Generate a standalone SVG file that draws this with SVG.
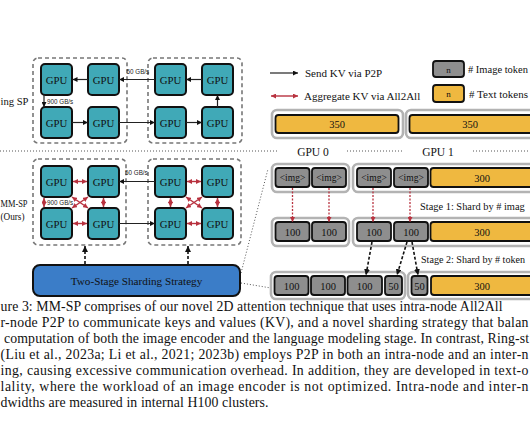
<svg xmlns="http://www.w3.org/2000/svg" width="530" height="442" viewBox="0 0 530 442">
<style>
.gpu rect{fill:#40a9b7;stroke:#111;stroke-width:2}
.gpu text{font-family:"Liberation Serif",serif;font-size:10.8px;fill:#111;text-anchor:middle}
.node{fill:none;stroke:#777;stroke-width:1.6;stroke-dasharray:4 3}
.blk{stroke:#222;stroke-width:1.2;fill:none;marker-end:url(#ab)}
.red{stroke:#b8323f;stroke-width:1.4;fill:none;marker-start:url(#ar);marker-end:url(#ar)}
.rdash{stroke:#b8323f;stroke-width:1.3;fill:none;stroke-dasharray:2 1.5;marker-end:url(#ard)}
.kdash{stroke:#111;stroke-width:1.6;fill:none;stroke-dasharray:3 2;marker-end:url(#akd)}
.dot{stroke:#555;stroke-width:1;fill:none;stroke-dasharray:1 2}
.bw{font-family:"Liberation Sans",Arial,sans-serif;font-size:6.3px;fill:#222}
.lbl{font-family:"Liberation Serif",serif;font-size:11px;fill:#111}
.ctn{fill:#fff;stroke:#b3b3b3;stroke-width:2.6}
.g{fill:#8e8e8e;stroke:#111;stroke-width:1.8}
.y{fill:#efb840;stroke:#111;stroke-width:1.8}
.tk{font-family:"Liberation Serif",serif;font-size:10.5px;fill:#111;text-anchor:middle}
.cap{font-family:"Liberation Serif","Times New Roman",serif;font-size:13.8px;fill:#111}
</style>
<defs>
<marker id="ab" viewBox="0 0 10 10" refX="10" refY="5" markerWidth="5" markerHeight="5" markerUnits="userSpaceOnUse" orient="auto"><path d="M0,0L10,5L0,10z" fill="#111"/></marker>
<marker id="ar" viewBox="0 0 10 10" refX="10" refY="5" markerWidth="5" markerHeight="5" markerUnits="userSpaceOnUse" orient="auto-start-reverse"><path d="M0,0L10,5L0,10z" fill="#b8323f"/></marker>
<marker id="ard" viewBox="0 0 10 10" refX="10" refY="5" markerWidth="5" markerHeight="5" markerUnits="userSpaceOnUse" orient="auto"><path d="M0,0L10,5L0,10z" fill="#b8323f"/></marker>
<marker id="akd" viewBox="0 0 10 10" refX="10" refY="5" markerWidth="6" markerHeight="6" markerUnits="userSpaceOnUse" orient="auto"><path d="M0,0L10,5L0,10z" fill="#111"/></marker>
</defs>

<!-- Ring SP -->
<text class="lbl" x="0.5" y="105" textLength="28" lengthAdjust="spacingAndGlyphs">ing SP</text>
<rect class="node" id="ring-node0" x="33" y="58" width="94" height="85" rx="5"/>
<rect class="node" id="ring-node1" x="148" y="58" width="94" height="85" rx="5"/>
<g id="r-gpu-a" class="gpu"><rect x="41" y="64" width="31" height="31" rx="4"/><text x="56.5" y="83.5">GPU</text></g>
<g id="r-gpu-b" class="gpu"><rect x="88" y="64" width="31" height="31" rx="4"/><text x="103.5" y="83.5">GPU</text></g>
<g id="r-gpu-c" class="gpu"><rect x="41" y="107" width="31" height="31" rx="4"/><text x="56.5" y="126.5">GPU</text></g>
<g id="r-gpu-d" class="gpu"><rect x="88" y="107" width="31" height="31" rx="4"/><text x="103.5" y="126.5">GPU</text></g>
<g id="r-gpu-e" class="gpu"><rect x="155" y="64" width="31" height="31" rx="4"/><text x="170.5" y="83.5">GPU</text></g>
<g id="r-gpu-f" class="gpu"><rect x="202" y="64" width="31" height="31" rx="4"/><text x="217.5" y="83.5">GPU</text></g>
<g id="r-gpu-g" class="gpu"><rect x="155" y="107" width="31" height="31" rx="4"/><text x="170.5" y="126.5">GPU</text></g>
<g id="r-gpu-h" class="gpu"><rect x="202" y="107" width="31" height="31" rx="4"/><text x="217.5" y="126.5">GPU</text></g>
<g id="ring-connectors">
<line class="blk" x1="88" y1="79.5" x2="72.5" y2="79.5"/>
<line class="blk" x1="44" y1="95" x2="44" y2="107"/>
<line class="blk" x1="72" y1="122.5" x2="88" y2="122.5"/>
<line class="blk" x1="119" y1="122.5" x2="155" y2="122.5"/>
<line class="blk" x1="186" y1="122.5" x2="202" y2="122.5"/>
<line class="blk" x1="217.5" y1="107" x2="217.5" y2="95"/>
<line class="blk" x1="202" y1="79.5" x2="186" y2="79.5"/>
<line class="blk" x1="155" y1="79.5" x2="119" y2="79.5"/>
<text class="bw" x="126.5" y="74">50 GB/s</text>
<text class="bw" x="47" y="104">900 GB/s</text>
</g>

<!-- separator -->
<path class="dot" d="M0,151H277M347,151H404M473,151H530"/>

<!-- MM-SP -->
<text class="lbl" x="0.5" y="207" textLength="27" lengthAdjust="spacingAndGlyphs">MM-SP</text>
<text class="lbl" x="0.5" y="220" textLength="24" lengthAdjust="spacingAndGlyphs">(Ours)</text>
<rect class="node" id="mm-node0" x="33" y="159" width="93" height="86" rx="5"/>
<rect class="node" id="mm-node1" x="148" y="159" width="93" height="86" rx="5"/>
<g id="m-gpu-a" class="gpu"><rect x="41" y="166" width="31" height="31" rx="4"/><text x="56.5" y="185.5">GPU</text></g>
<g id="m-gpu-b" class="gpu"><rect x="88" y="166" width="31" height="31" rx="4"/><text x="103.5" y="185.5">GPU</text></g>
<g id="m-gpu-c" class="gpu"><rect x="41" y="208" width="31" height="31" rx="4"/><text x="56.5" y="227.5">GPU</text></g>
<g id="m-gpu-d" class="gpu"><rect x="88" y="208" width="31" height="31" rx="4"/><text x="103.5" y="227.5">GPU</text></g>
<g id="m-gpu-e" class="gpu"><rect x="155" y="166" width="31" height="31" rx="4"/><text x="170.5" y="185.5">GPU</text></g>
<g id="m-gpu-f" class="gpu"><rect x="202" y="166" width="31" height="31" rx="4"/><text x="217.5" y="185.5">GPU</text></g>
<g id="m-gpu-g" class="gpu"><rect x="155" y="208" width="31" height="31" rx="4"/><text x="170.5" y="227.5">GPU</text></g>
<g id="m-gpu-h" class="gpu"><rect x="202" y="208" width="31" height="31" rx="4"/><text x="217.5" y="227.5">GPU</text></g>
<g id="mm-connectors">
<line class="red" x1="73" y1="181.5" x2="87" y2="181.5"/>
<line class="red" x1="73" y1="223.5" x2="87" y2="223.5"/>
<line class="red" x1="44" y1="198" x2="44" y2="207"/>
<line class="red" x1="103.5" y1="198" x2="103.5" y2="207"/>
<line class="red" x1="72" y1="197" x2="88" y2="208"/>
<line class="red" x1="88" y1="197" x2="72" y2="208"/>
<line class="red" x1="187" y1="181.5" x2="201" y2="181.5"/>
<line class="red" x1="187" y1="223.5" x2="201" y2="223.5"/>
<line class="red" x1="170.5" y1="198" x2="170.5" y2="207"/>
<line class="red" x1="217.5" y1="198" x2="217.5" y2="207"/>
<line class="red" x1="186" y1="197" x2="202" y2="208"/>
<line class="red" x1="202" y1="197" x2="186" y2="208"/>
<line class="blk" x1="155" y1="181.5" x2="119" y2="181.5"/>
<line class="blk" x1="119" y1="223.5" x2="155" y2="223.5"/>
<text class="bw" x="125" y="175">50 GB/s</text>
<text class="bw" x="47" y="204.5">900 GB/s</text>
<line class="kdash" x1="85" y1="264" x2="85" y2="246"/>
<line class="kdash" x1="188" y1="264" x2="188" y2="246"/>
<path class="dot" d="M241,273L268,169M241,283L271,288"/>
</g>

<g id="two-stage">
<rect x="33" y="265" width="207" height="31" rx="7" fill="#3b7dc8" stroke="#111" stroke-width="2"/>
<text x="136.5" y="284.5" font-family="Liberation Serif,serif" font-size="11.2px" text-anchor="middle" fill="#111">Two-Stage Sharding Strategy</text>
</g>

<!-- Legend -->
<g id="legend">
<line class="blk" x1="270" y1="73" x2="298" y2="73"/>
<text class="lbl" x="305" y="77">Send KV via P2P</text>
<line class="red" x1="271" y1="96" x2="298" y2="96"/>
<text class="lbl" x="304" y="100">Aggregate KV via All2All</text>
<rect class="g" x="433" y="61" width="31" height="16" rx="3"/>
<text class="tk" x="448.5" y="72.5" style="font-size:9px">n</text>
<text class="lbl" x="468" y="73" textLength="60" lengthAdjust="spacingAndGlyphs"># Image token</text>
<rect class="y" x="433" y="85" width="31" height="17" rx="3"/>
<text class="tk" x="448.5" y="97" style="font-size:9px">n</text>
<text class="lbl" x="469" y="98" textLength="59" lengthAdjust="spacingAndGlyphs"># Text tokens</text>
</g>

<!-- Row 350 -->
<g id="row-ring">
<rect class="ctn" x="272" y="110" width="131" height="28" rx="5"/>
<rect class="y" x="275.5" y="115" width="123" height="18" rx="3"/>
<text class="tk" x="337" y="128">350</text>
<rect class="ctn" x="406" y="110" width="140" height="28" rx="5"/>
<rect class="y" x="409.5" y="115" width="140" height="18" rx="3"/>
<text class="tk" x="470" y="128">350</text>
</g>

<text class="lbl" x="313" y="156" text-anchor="middle" style="font-size:11.5px">GPU 0</text>
<text class="lbl" x="438" y="156" text-anchor="middle" style="font-size:11.5px">GPU 1</text>

<!-- Row 1 -->
<g id="row1">
<rect class="ctn" x="272" y="164" width="77" height="28" rx="5"/>
<rect class="g" x="275.5" y="168" width="34" height="19" rx="3"/>
<text class="tk" x="292.5" y="181" style="font-size:9.5px">&lt;img&gt;</text>
<rect class="g" x="312" y="168" width="34" height="19" rx="3"/>
<text class="tk" x="329" y="181" style="font-size:9.5px">&lt;img&gt;</text>
<rect class="ctn" x="353" y="164" width="190" height="28" rx="5"/>
<rect class="g" x="357" y="168" width="34" height="19" rx="3"/>
<text class="tk" x="374" y="181" style="font-size:9.5px">&lt;img&gt;</text>
<rect class="g" x="394" y="168" width="34" height="19" rx="3"/>
<text class="tk" x="411" y="181" style="font-size:9.5px">&lt;img&gt;</text>
<rect class="y" x="430.5" y="168" width="110" height="19" rx="3"/>
<text class="tk" x="482" y="181.5">300</text>
</g>
<text class="lbl" x="420" y="209.5" style="font-size:10.4px">Stage 1: Shard by # imag</text>

<!-- Row 2 -->
<g id="row2">
<rect class="ctn" x="272" y="218" width="77" height="28" rx="5"/>
<rect class="g" x="275.5" y="222" width="34" height="19" rx="3"/>
<text class="tk" x="292.5" y="235.5">100</text>
<rect class="g" x="312" y="222" width="34" height="19" rx="3"/>
<text class="tk" x="329" y="235.5">100</text>
<rect class="ctn" x="353" y="218" width="190" height="28" rx="5"/>
<rect class="g" x="357" y="222" width="34" height="19" rx="3"/>
<text class="tk" x="374" y="235.5">100</text>
<rect class="g" x="394" y="222" width="34" height="19" rx="3"/>
<text class="tk" x="411" y="235.5">100</text>
<rect class="y" x="430.5" y="222" width="110" height="19" rx="3"/>
<text class="tk" x="482" y="235.5">300</text>
</g>
<text class="lbl" x="421" y="262.5" style="font-size:10.1px">Stage 2: Shard by # token</text>

<!-- Row 3 -->
<g id="row3">
<rect class="ctn" x="271" y="272" width="134" height="27" rx="5"/>
<rect class="g" x="274.5" y="276" width="34" height="19" rx="3"/>
<text class="tk" x="291.5" y="289.5">100</text>
<rect class="g" x="311" y="276" width="34" height="19" rx="3"/>
<text class="tk" x="328" y="289.5">100</text>
<rect class="g" x="347.5" y="276" width="34.5" height="19" rx="3"/>
<text class="tk" x="364.7" y="289.5">100</text>
<rect class="g" x="385" y="276" width="17" height="19" rx="3"/>
<text class="tk" x="393.5" y="289.5">50</text>
<rect class="ctn" x="408" y="272" width="135" height="27" rx="5"/>
<rect class="g" x="411.5" y="276" width="16" height="19" rx="3"/>
<text class="tk" x="419.5" y="289.5">50</text>
<rect class="y" x="431" y="276" width="110" height="19" rx="3"/>
<text class="tk" x="482" y="289.5">300</text>
</g>

<g id="shard-connectors">
<line class="rdash" x1="292.5" y1="188" x2="292.5" y2="222"/>
<line class="rdash" x1="329" y1="188" x2="329" y2="222"/>
<line class="rdash" x1="373" y1="188" x2="373" y2="222"/>
<line class="rdash" x1="410" y1="188" x2="410" y2="222"/>
<line class="kdash" x1="372" y1="242" x2="366" y2="275"/>
<line class="kdash" x1="407" y1="242" x2="397" y2="275"/>
<line class="kdash" x1="412" y1="242" x2="418" y2="275"/>
</g>

<!-- caption -->
<g id="caption" class="cap">
<text x="0.5" y="311" textLength="502" lengthAdjust="spacing">ure 3: MM-SP comprises of our novel 2D attention technique that uses intra-node All2All</text>
<text x="0.5" y="327" textLength="528" lengthAdjust="spacing">r-node P2P to communicate keys and values (KV), and a novel sharding strategy that balan</text>
<text x="4" y="343" textLength="525" lengthAdjust="spacing">computation of both the image encoder and the language modeling stage. In contrast, Ring-st</text>
<text x="0.5" y="359" textLength="528" lengthAdjust="spacing">(Liu et al., 2023a; Li et al., 2021; 2023b) employs P2P in both an intra-node and an inter-n</text>
<text x="0.5" y="375" textLength="528" lengthAdjust="spacing">ing, causing excessive communication overhead.  In addition, they are developed in text-o</text>
<text x="0.5" y="391" textLength="528" lengthAdjust="spacing">lality, where the workload of an image encoder is not optimized.  Intra-node and inter-n</text>
<text x="0.5" y="407" textLength="268" lengthAdjust="spacing">dwidths are measured in internal H100 clusters.</text>
</g>
</svg>
